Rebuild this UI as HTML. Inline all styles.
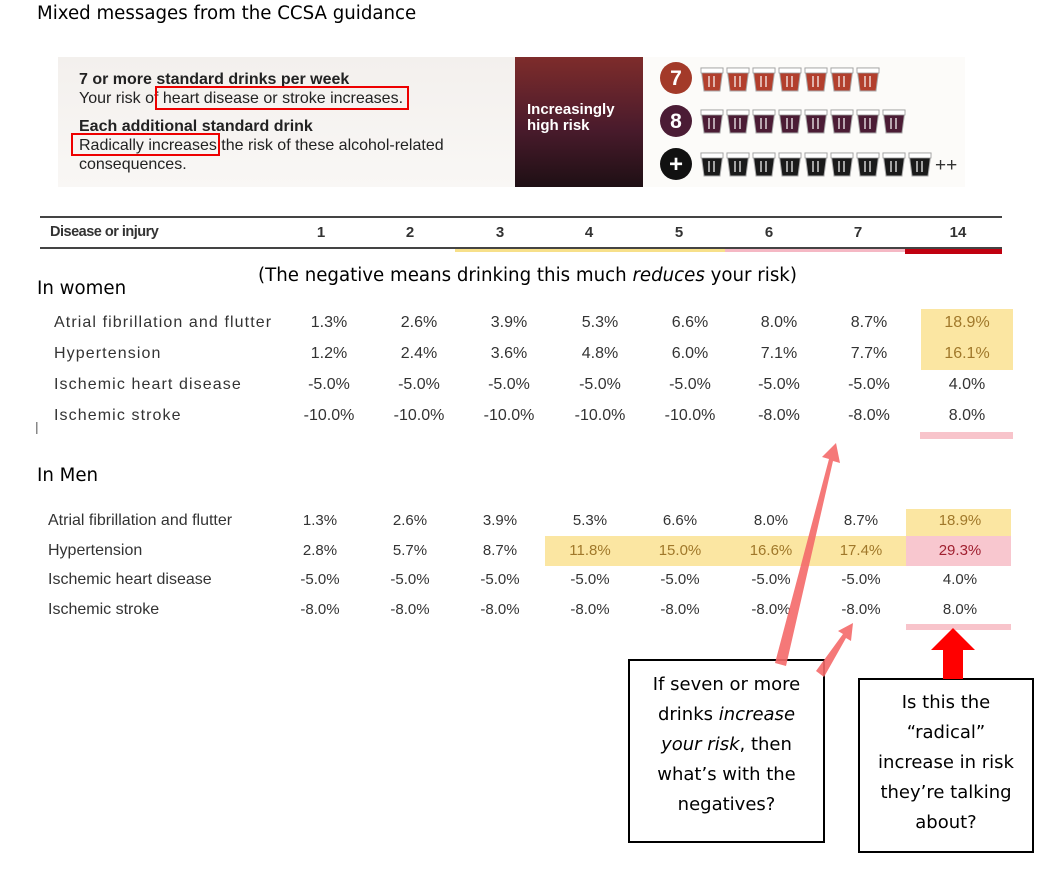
<!DOCTYPE html>
<html><head><meta charset="utf-8"><style>
body{margin:0;width:1060px;height:876px;background:#fff;position:relative;overflow:hidden;font-family:"Liberation Sans",sans-serif}
.a{position:absolute;white-space:nowrap}
.c{font-family:"DejaVu Sans","Liberation Sans",sans-serif}
.t{font-size:16px;color:#333}
.tw{font-size:16px;color:#333;letter-spacing:1.1px}
.n{position:absolute;width:90px;text-align:center;font-size:15px;color:#333;transform:translateX(-45px)}
.nw{font-size:16px}
.bn{font-size:16px;color:#222}
.box{position:absolute;border:2.5px solid #000;background:#fff;text-align:center;font-family:"DejaVu Sans",sans-serif;font-size:18px;line-height:30px;color:#000;box-sizing:border-box}
</style></head><body>
<div class="a c" style="left:37px;top:3px;font-size:18.2px;color:#000">Mixed messages from the CCSA guidance</div>

<div class="a" style="left:58px;top:57px;width:457px;height:130px;background:linear-gradient(#f3f0ed,#f9f7f5)"></div>
<div class="a" style="left:515px;top:57px;width:128px;height:130px;background:linear-gradient(#7e2c2b,#4a1b2c 55%,#1e0f14)"></div>
<div class="a" style="left:643px;top:57px;width:322px;height:130px;background:#fcfbf9"></div>
<div class="a bn" style="left:79px;top:71px;font-weight:bold">7 or more standard drinks per week</div>
<div class="a bn" style="left:79px;top:90px">Your risk of heart disease or stroke increases.</div>
<div class="a bn" style="left:79px;top:118px;font-weight:bold">Each additional standard drink</div>
<div class="a bn" style="left:79px;top:137px">Radically increases the risk of these alcohol-related</div>
<div class="a bn" style="left:79px;top:156px">consequences.</div>
<div class="a" style="left:155px;top:86px;width:254px;height:24px;border:2.5px solid #e00;box-sizing:border-box"></div>
<div class="a" style="left:71px;top:133px;width:149px;height:23px;border:2.5px solid #e00;box-sizing:border-box"></div>
<div class="a" style="left:527px;top:102px;font-size:15px;font-weight:bold;color:#fff;line-height:16px">Increasingly<br>high risk</div>

<svg class="a" style="left:0;top:0" width="1060" height="876">
<defs>
<g id="w"><rect x="0" y="0" width="22" height="5" fill="#fff" stroke="#999" stroke-width="0.8"/><rect x="7" y="8" width="2" height="11" fill="#fff" opacity="0.6"/><rect x="12" y="8" width="2" height="11" fill="#fff" opacity="0.6"/></g>
</defs>
<circle cx="676" cy="78" r="16" fill="#a33a29"/><text x="676" y="85" font-size="21" font-weight="bold" fill="#fff" text-anchor="middle" font-family="Liberation Sans">7</text>
<circle cx="676" cy="121" r="16" fill="#4b1c35"/><text x="676" y="128" font-size="21" font-weight="bold" fill="#fff" text-anchor="middle" font-family="Liberation Sans">8</text>
<circle cx="676" cy="164" r="16" fill="#111"/><text x="676" y="172" font-size="24" font-weight="bold" fill="#fff" text-anchor="middle" font-family="Liberation Sans">+</text>
<g stroke="#aaa" stroke-width="1">
<g fill="#b23f2d">
<path d="M701 68h22l-3 23h-16z"/><path d="M727 68h22l-3 23h-16z"/><path d="M753 68h22l-3 23h-16z"/><path d="M779 68h22l-3 23h-16z"/><path d="M805 68h22l-3 23h-16z"/><path d="M831 68h22l-3 23h-16z"/><path d="M857 68h22l-3 23h-16z"/>
</g>
<g fill="#4b1c35">
<path d="M701 110h22l-3 23h-16z"/><path d="M727 110h22l-3 23h-16z"/><path d="M753 110h22l-3 23h-16z"/><path d="M779 110h22l-3 23h-16z"/><path d="M805 110h22l-3 23h-16z"/><path d="M831 110h22l-3 23h-16z"/><path d="M857 110h22l-3 23h-16z"/><path d="M883 110h22l-3 23h-16z"/>
</g>
<g fill="#1a1a1a">
<path d="M701 153h22l-3 23h-16z"/><path d="M727 153h22l-3 23h-16z"/><path d="M753 153h22l-3 23h-16z"/><path d="M779 153h22l-3 23h-16z"/><path d="M805 153h22l-3 23h-16z"/><path d="M831 153h22l-3 23h-16z"/><path d="M857 153h22l-3 23h-16z"/><path d="M883 153h22l-3 23h-16z"/><path d="M909 153h22l-3 23h-16z"/>
</g>
</g>
<use href="#w" x="701" y="68"/><use href="#w" x="727" y="68"/><use href="#w" x="753" y="68"/><use href="#w" x="779" y="68"/><use href="#w" x="805" y="68"/><use href="#w" x="831" y="68"/><use href="#w" x="857" y="68"/>
<use href="#w" x="701" y="110"/><use href="#w" x="727" y="110"/><use href="#w" x="753" y="110"/><use href="#w" x="779" y="110"/><use href="#w" x="805" y="110"/><use href="#w" x="831" y="110"/><use href="#w" x="857" y="110"/><use href="#w" x="883" y="110"/>
<use href="#w" x="701" y="153"/><use href="#w" x="727" y="153"/><use href="#w" x="753" y="153"/><use href="#w" x="779" y="153"/><use href="#w" x="805" y="153"/><use href="#w" x="831" y="153"/><use href="#w" x="857" y="153"/><use href="#w" x="883" y="153"/><use href="#w" x="909" y="153"/>
<text x="935" y="171" font-size="19" fill="#333" font-family="Liberation Sans">++</text>

<rect x="40" y="216" width="962" height="2" fill="#444"/>
<rect x="40" y="247" width="962" height="2" fill="#444"/>
<rect x="455" y="249" width="270" height="3" fill="#f7e08a"/>
<rect x="725" y="249" width="180" height="3" fill="#f5b8c4"/>
<rect x="905" y="249" width="97" height="5" fill="#c00010"/>
<rect x="921" y="309" width="92" height="61" fill="#fbe6a2"/>
<rect x="920" y="432" width="93" height="7" fill="#f8c4cb"/>
<rect x="906" y="509" width="105" height="27" fill="#fbe6a2"/>
<rect x="545" y="536" width="361" height="30" fill="#fbe6a2"/>
<rect x="906" y="536" width="105" height="30" fill="#f8c7cf"/>
<rect x="906" y="624" width="105" height="6" fill="#f8c4cb"/>
<rect x="36" y="422" width="1.5" height="12" fill="#888"/>
</svg>

<div class="a" style="left:50px;top:224px;font-size:14.5px;font-weight:bold;color:#333;letter-spacing:-0.5px">Disease or injury</div>
<div class="n" style="left:321px;top:224px;font-weight:bold">1</div>
<div class="n" style="left:410px;top:224px;font-weight:bold">2</div>
<div class="n" style="left:500px;top:224px;font-weight:bold">3</div>
<div class="n" style="left:589px;top:224px;font-weight:bold">4</div>
<div class="n" style="left:679px;top:224px;font-weight:bold">5</div>
<div class="n" style="left:769px;top:224px;font-weight:bold">6</div>
<div class="n" style="left:858px;top:224px;font-weight:bold">7</div>
<div class="n" style="left:958px;top:224px;font-weight:bold">14</div>

<div class="a c" style="left:258px;top:265px;font-size:18.2px;color:#000">(The negative means drinking this much <i>reduces</i> your risk)</div>
<div class="a c" style="left:37px;top:278px;font-size:18.2px;color:#000">In women</div>
<div class="a c" style="left:37px;top:465px;font-size:18.2px;color:#000">In Men</div>

<div class="a tw" style="left:54px;top:314px">Atrial fibrillation and flutter</div>
<div class="a tw" style="left:54px;top:345px">Hypertension</div>
<div class="a tw" style="left:54px;top:376px">Ischemic heart disease</div>
<div class="a tw" style="left:54px;top:407px">Ischemic stroke</div>

<div class="n nw" style="left:329px;top:314px">1.3%</div><div class="n nw" style="left:419px;top:314px">2.6%</div><div class="n nw" style="left:509px;top:314px">3.9%</div><div class="n nw" style="left:600px;top:314px">5.3%</div><div class="n nw" style="left:690px;top:314px">6.6%</div><div class="n nw" style="left:779px;top:314px">8.0%</div><div class="n nw" style="left:869px;top:314px">8.7%</div><div class="n nw" style="left:967px;top:314px;color:#a0782a">18.9%</div>
<div class="n nw" style="left:329px;top:345px">1.2%</div><div class="n nw" style="left:419px;top:345px">2.4%</div><div class="n nw" style="left:509px;top:345px">3.6%</div><div class="n nw" style="left:600px;top:345px">4.8%</div><div class="n nw" style="left:690px;top:345px">6.0%</div><div class="n nw" style="left:779px;top:345px">7.1%</div><div class="n nw" style="left:869px;top:345px">7.7%</div><div class="n nw" style="left:967px;top:345px;color:#a0782a">16.1%</div>
<div class="n nw" style="left:329px;top:376px">-5.0%</div><div class="n nw" style="left:419px;top:376px">-5.0%</div><div class="n nw" style="left:509px;top:376px">-5.0%</div><div class="n nw" style="left:600px;top:376px">-5.0%</div><div class="n nw" style="left:690px;top:376px">-5.0%</div><div class="n nw" style="left:779px;top:376px">-5.0%</div><div class="n nw" style="left:869px;top:376px">-5.0%</div><div class="n nw" style="left:967px;top:376px">4.0%</div>
<div class="n nw" style="left:329px;top:407px">-10.0%</div><div class="n nw" style="left:419px;top:407px">-10.0%</div><div class="n nw" style="left:509px;top:407px">-10.0%</div><div class="n nw" style="left:600px;top:407px">-10.0%</div><div class="n nw" style="left:690px;top:407px">-10.0%</div><div class="n nw" style="left:779px;top:407px">-8.0%</div><div class="n nw" style="left:869px;top:407px">-8.0%</div><div class="n nw" style="left:967px;top:407px">8.0%</div>

<div class="a t" style="left:48px;top:512px">Atrial fibrillation and flutter</div>
<div class="a t" style="left:48px;top:542px">Hypertension</div>
<div class="a t" style="left:48px;top:571px">Ischemic heart disease</div>
<div class="a t" style="left:48px;top:601px">Ischemic stroke</div>

<div class="n" style="left:320px;top:512px">1.3%</div><div class="n" style="left:410px;top:512px">2.6%</div><div class="n" style="left:500px;top:512px">3.9%</div><div class="n" style="left:590px;top:512px">5.3%</div><div class="n" style="left:680px;top:512px">6.6%</div><div class="n" style="left:771px;top:512px">8.0%</div><div class="n" style="left:861px;top:512px">8.7%</div><div class="n" style="left:960px;top:512px;color:#a0782a">18.9%</div>
<div class="n" style="left:320px;top:542px">2.8%</div><div class="n" style="left:410px;top:542px">5.7%</div><div class="n" style="left:500px;top:542px">8.7%</div><div class="n" style="left:590px;top:542px;color:#a0782a">11.8%</div><div class="n" style="left:680px;top:542px;color:#a0782a">15.0%</div><div class="n" style="left:771px;top:542px;color:#a0782a">16.6%</div><div class="n" style="left:861px;top:542px;color:#a0782a">17.4%</div><div class="n" style="left:960px;top:542px;color:#a02030">29.3%</div>
<div class="n" style="left:320px;top:571px">-5.0%</div><div class="n" style="left:410px;top:571px">-5.0%</div><div class="n" style="left:500px;top:571px">-5.0%</div><div class="n" style="left:590px;top:571px">-5.0%</div><div class="n" style="left:680px;top:571px">-5.0%</div><div class="n" style="left:771px;top:571px">-5.0%</div><div class="n" style="left:861px;top:571px">-5.0%</div><div class="n" style="left:960px;top:571px">4.0%</div>
<div class="n" style="left:320px;top:601px">-8.0%</div><div class="n" style="left:410px;top:601px">-8.0%</div><div class="n" style="left:500px;top:601px">-8.0%</div><div class="n" style="left:590px;top:601px">-8.0%</div><div class="n" style="left:680px;top:601px">-8.0%</div><div class="n" style="left:771px;top:601px">-8.0%</div><div class="n" style="left:861px;top:601px">-8.0%</div><div class="n" style="left:960px;top:601px">8.0%</div>

<div class="box" style="left:628px;top:659px;width:197px;height:184px;padding-top:9px">If seven or more<br>drinks <i>increase</i><br><i>your risk</i>, then<br>what’s with the<br>negatives?</div>
<div class="box" style="left:858px;top:678px;width:176px;height:175px;padding-top:8px">Is this the<br>“radical”<br>increase in risk<br>they’re talking<br>about?</div>

<svg class="a" style="left:0;top:0" width="1060" height="876">
<g fill="#f46a6a" opacity="0.9">
<polygon points="775,663 786,666 833,461 840,463 836,443 822,457 829,459"/>
<polygon points="816,671 824,677 846,638 851,641 853,623 838,631 843,634"/>
</g>
<polygon points="953,628 975,650 963,650 963,679 943,679 943,650 931,650" fill="#f00"/>
</svg>
</body></html>
